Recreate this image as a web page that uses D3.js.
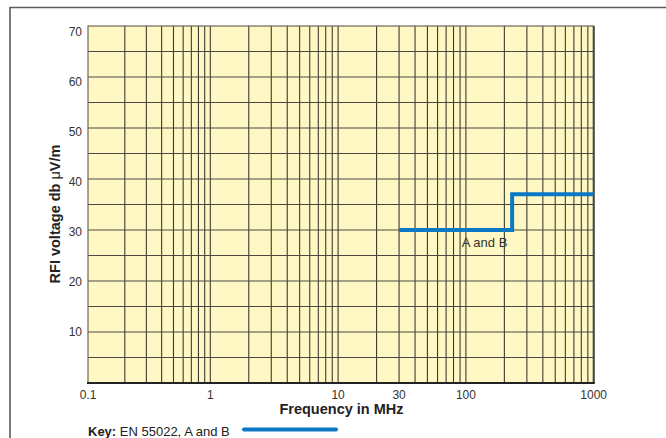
<!DOCTYPE html>
<html><head><meta charset="utf-8">
<script src="https://cdn.jsdelivr.net/npm/d3@7"></script>
<style>html,body{margin:0;padding:0;background:#fff;}svg{display:block;}</style>
</head><body>
<svg id="chart" width="666" height="438"></svg>
<script>
// ---- data ----
const stepFreqs = [30, 230, 1000];          // MHz
const stepLimits = [30, 37, 37];            // dB µV/m (EN 55022, A and B)
const xTickValues = [0.1, 1, 10, 30, 100, 1000];
const xTickLabels = ["0.1", "1", "10", "30", "100", "1000"];
const yTickValues = [10, 20, 30, 40, 50, 60, 70];
const yGridValues = [5, 10, 15, 20, 25, 30, 35, 40, 45, 50, 55, 60, 65];
const seriesLabel = "A and B";
const seriesLabelPos = [140, 30];
const xTitle = "Frequency in MHz";
const yTitleParts = ["RFI voltage db ", "\u03BC", "V/m"];
const keyBold = "Key:";
const keyText = " EN 55022, A and B";

const svg = d3.select("#chart");
const font = "'Liberation Sans', Arial, Helvetica, sans-serif";

// outer frame
svg.append("path").attr("d", "M10,438V7.5H666").attr("fill", "none")
  .attr("stroke", "#5c5c5c").attr("stroke-width", 1.6);

const x = d3.scaleLog().domain([0.1, 1, 1000]).range([88, 210.3, 593.7]);
const y = d3.scaleLinear().domain([0, 70]).range([383, 26]);
const yLab = d3.scaleLinear().domain([10, 70]).range([331.6, 31.6]);

// background
svg.append("rect").attr("x", x(0.1)).attr("y", y(70))
  .attr("width", x(1000) - x(0.1)).attr("height", y(0) - y(70))
  .attr("fill", "#fff8c5");

// vertical grid
const vLines = [];
[0.1, 1, 10, 100].forEach(d => { for (let k = 2; k <= 9; k++) vLines.push(d * k); });
[1, 10, 100].forEach(v => vLines.push(v));
svg.append("g").selectAll("line").data(vLines).join("line")
  .attr("x1", d => x(d)).attr("x2", d => x(d))
  .attr("y1", y(70)).attr("y2", y(0))
  .attr("stroke", "#3e3c32").attr("stroke-width", 1.1);

// horizontal grid
svg.append("g").selectAll("line").data(yGridValues).join("line")
  .attr("x1", x(0.1)).attr("x2", x(1000))
  .attr("y1", d => y(d)).attr("y2", d => y(d))
  .attr("stroke", "#4a4840").attr("stroke-width", 1.1);

// plot border
svg.append("rect").attr("x", x(0.1)).attr("y", y(70))
  .attr("width", x(1000) - x(0.1)).attr("height", y(0) - y(70))
  .attr("fill", "none").attr("stroke", "#6a6858").attr("stroke-width", 1.2);
svg.append("line").attr("x1", x(1000)).attr("x2", x(1000)).attr("y1", y(70)).attr("y2", y(0))
  .attr("stroke", "#444").attr("stroke-width", 2);
svg.append("line").attr("x1", x(0.1) - 1).attr("x2", x(1000) + 1).attr("y1", y(0)).attr("y2", y(0))
  .attr("stroke", "#222").attr("stroke-width", 2);

// data line
const line = d3.line().x(d => x(d[0])).y(d => y(d[1])).curve(d3.curveStepAfter);
svg.append("path").datum(stepFreqs.map((f, i) => [f, stepLimits[i]]))
  .attr("d", line).attr("fill", "none").attr("stroke", "#0a78c4")
  .attr("stroke-width", 4).attr("stroke-linejoin", "miter");

// series label
svg.append("text").attr("x", x(seriesLabelPos[0])).attr("y", y(seriesLabelPos[1]) + 16.5)
  .attr("text-anchor", "middle").attr("font-family", font).attr("font-size", 13)
  .attr("fill", "#333").text(seriesLabel);

// y tick labels
svg.append("g").selectAll("text").data(yTickValues).join("text")
  .attr("x", 82).attr("y", d => yLab(d)).attr("dy", "0.36em")
  .attr("text-anchor", "end").attr("font-family", font).attr("font-size", 12)
  .attr("fill", "#333").text(d => d);

// x tick labels
svg.append("g").selectAll("text").data(xTickValues).join("text")
  .attr("x", d => x(d)).attr("y", 398.5)
  .attr("text-anchor", "middle").attr("font-family", font).attr("font-size", 12)
  .attr("fill", "#333").text((d, i) => xTickLabels[i]);

// axis titles
svg.append("text").attr("x", 341.5).attr("y", 414)
  .attr("text-anchor", "middle").attr("font-family", font).attr("font-size", 14.5)
  .attr("font-weight", "bold").attr("fill", "#222").text(xTitle);
const yt = svg.append("text").attr("transform", "translate(60,214) rotate(-90)")
  .attr("text-anchor", "middle").attr("font-family", font).attr("font-size", 14.5)
  .attr("font-weight", "bold").attr("fill", "#222");
yt.append("tspan").text(yTitleParts[0]);
yt.append("tspan").attr("font-weight", "normal").text(yTitleParts[1]);
yt.append("tspan").text(yTitleParts[2]);

// key
const key = svg.append("text").attr("x", 88).attr("y", 435.5)
  .attr("font-family", font).attr("font-size", 13).attr("fill", "#222");
key.append("tspan").attr("font-weight", "bold").text(keyBold);
key.append("tspan").text(keyText);
svg.append("line").attr("x1", 244).attr("x2", 336).attr("y1", 429.5).attr("y2", 429.5)
  .attr("stroke", "#0a78c4").attr("stroke-width", 4).attr("stroke-linecap", "round");
</script>
</body></html>
